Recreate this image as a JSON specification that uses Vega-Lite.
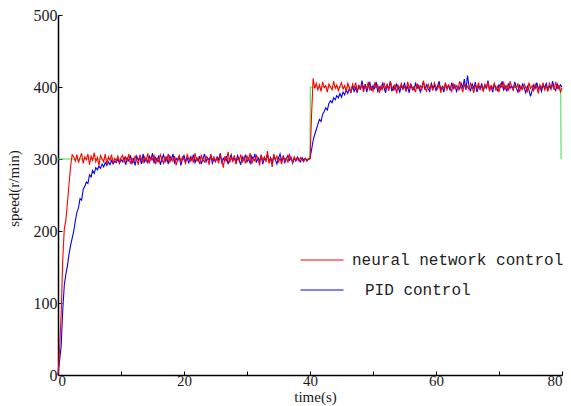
{
"$schema":"https://vega.github.io/schema/vega-lite/v6.json",
"width":504,"height":360,
"autosize":{"type":"none"},
"padding":{"left":58,"top":15,"right":9,"bottom":31},
"background":"white",
"config":{"view":{"stroke":null},
"axis":{"grid":false,"domainColor":"#000","domainWidth":1.5,"tickColor":"#000","tickSize":-4,"tickWidth":1,"labelPadding":6,"labelFont":"Liberation Serif","labelFontSize":16,"labelColor":"#1a1a1a","titleFont":"Liberation Serif","titleFontSize":15,"titleFontWeight":"normal","titleColor":"#1a1a1a"}},
"datasets":{
"ref":[{"t":0,"r":300},{"t":40,"r":300},{"t":40.05,"r":400},{"t":79.8,"r":400},{"t":79.85,"r":300}],
"sim":[
{"t":0,"n":0,"p":0},{"t":0.25,"n":35,"p":20},{"t":0.5,"n":85,"p":40},{"t":0.75,"n":160,"p":90},{"t":1,"n":203,"p":125},{"t":1.25,"n":215,"p":140},{"t":1.5,"n":240,"p":152},{"t":1.75,"n":265,"p":168},{"t":2,"n":290,"p":180},{"t":2.25,"n":306,"p":190},
{"t":2.5,"n":303,"p":200},{"t":2.75,"n":297,"p":214},{"t":3,"n":306,"p":226},{"t":3.25,"n":295,"p":232},{"t":3.5,"n":302,"p":245},{"t":3.75,"n":308,"p":243},{"t":4,"n":294,"p":258},{"t":4.25,"n":303,"p":262},{"t":4.5,"n":299,"p":268},{"t":4.75,"n":307,"p":266},
{"t":5,"n":292,"p":278},{"t":5.25,"n":304,"p":275},{"t":5.5,"n":298,"p":284},{"t":5.75,"n":309,"p":280},{"t":6,"n":296,"p":288},{"t":6.25,"n":302,"p":285},{"t":6.5,"n":291,"p":290},{"t":6.75,"n":305,"p":287},{"t":7,"n":300,"p":293},{"t":7.25,"n":296,"p":289},
{"t":7.5,"n":307,"p":295},{"t":7.75,"n":293,"p":291},{"t":8,"n":303,"p":296},{"t":8.25,"n":298,"p":292},{"t":8.5,"n":306,"p":298},{"t":8.75,"n":294,"p":293},{"t":9,"n":301,"p":297},{"t":9.25,"n":297,"p":295},{"t":9.5,"n":304,"p":300},{"t":9.75,"n":295,"p":294},
{"t":10,"n":302,"p":299},{"t":10.25,"n":305,"p":296},{"t":10.5,"n":296,"p":303},{"t":10.75,"n":303,"p":292},{"t":11,"n":298,"p":301},{"t":11.25,"n":307,"p":297},{"t":11.5,"n":293,"p":305},{"t":11.75,"n":301,"p":294},{"t":12,"n":296,"p":300},{"t":12.25,"n":304,"p":291},
{"t":12.5,"n":299,"p":304},{"t":12.75,"n":292,"p":298},{"t":13,"n":306,"p":302},{"t":13.25,"n":300,"p":293},{"t":13.5,"n":295,"p":307},{"t":13.75,"n":303,"p":296},{"t":14,"n":297,"p":301},{"t":14.25,"n":308,"p":295},{"t":14.5,"n":294,"p":304},{"t":14.75,"n":302,"p":299},
{"t":15,"n":299,"p":308},{"t":15.25,"n":305,"p":294},{"t":15.5,"n":293,"p":302},{"t":15.75,"n":301,"p":297},{"t":16,"n":296,"p":305},{"t":16.25,"n":306,"p":292},{"t":16.5,"n":300,"p":300},{"t":16.75,"n":294,"p":306},{"t":17,"n":303,"p":296},{"t":17.25,"n":298,"p":302},
{"t":17.5,"n":307,"p":293},{"t":17.75,"n":295,"p":304},{"t":18,"n":302,"p":299},{"t":18.25,"n":297,"p":307},{"t":18.5,"n":304,"p":295},{"t":18.75,"n":291,"p":301},{"t":19,"n":300,"p":297},{"t":19.25,"n":305,"p":304},{"t":19.5,"n":296,"p":291},{"t":19.75,"n":303,"p":300},
{"t":20,"n":299,"p":305},{"t":20.25,"n":294,"p":296},{"t":20.5,"n":306,"p":302},{"t":20.75,"n":300,"p":294},{"t":21,"n":297,"p":303},{"t":21.25,"n":303,"p":298},{"t":21.5,"n":295,"p":306},{"t":21.75,"n":308,"p":295},{"t":22,"n":298,"p":301},{"t":22.25,"n":302,"p":297},
{"t":22.5,"n":293,"p":304},{"t":22.75,"n":305,"p":293},{"t":23,"n":299,"p":300},{"t":23.25,"n":296,"p":307},{"t":23.5,"n":304,"p":296},{"t":23.75,"n":300,"p":302},{"t":24,"n":292,"p":298},{"t":24.25,"n":307,"p":305},{"t":24.5,"n":298,"p":294},{"t":24.75,"n":303,"p":300},
{"t":25,"n":297,"p":296},{"t":25.25,"n":301,"p":303},{"t":25.5,"n":294,"p":299},{"t":25.75,"n":306,"p":308},{"t":26,"n":299,"p":295},{"t":26.25,"n":288,"p":301},{"t":26.5,"n":304,"p":297},{"t":26.75,"n":298,"p":304},{"t":27,"n":310,"p":293},{"t":27.25,"n":295,"p":300},
{"t":27.5,"n":302,"p":306},{"t":27.75,"n":297,"p":297},{"t":28,"n":305,"p":302},{"t":28.25,"n":293,"p":295},{"t":28.5,"n":301,"p":305},{"t":28.75,"n":298,"p":299},{"t":29,"n":306,"p":292},{"t":29.25,"n":296,"p":303},{"t":29.5,"n":302,"p":298},{"t":29.75,"n":294,"p":306},
{"t":30,"n":304,"p":296},{"t":30.25,"n":299,"p":301},{"t":30.5,"n":308,"p":294},{"t":30.75,"n":293,"p":304},{"t":31,"n":301,"p":299},{"t":31.25,"n":297,"p":307},{"t":31.5,"n":305,"p":295},{"t":31.75,"n":300,"p":302},{"t":32,"n":291,"p":297},{"t":32.25,"n":306,"p":305},
{"t":32.5,"n":298,"p":293},{"t":32.75,"n":303,"p":301},{"t":33,"n":296,"p":298},{"t":33.25,"n":311,"p":306},{"t":33.5,"n":294,"p":296},{"t":33.75,"n":302,"p":302},{"t":34,"n":289,"p":294},{"t":34.25,"n":307,"p":304},{"t":34.5,"n":299,"p":299},{"t":34.75,"n":304,"p":293},
{"t":35,"n":296,"p":301},{"t":35.25,"n":301,"p":307},{"t":35.5,"n":293,"p":297},{"t":35.75,"n":305,"p":303},{"t":36,"n":298,"p":295},{"t":36.25,"n":302,"p":300},{"t":36.5,"n":295,"p":305},{"t":36.75,"n":306,"p":298},{"t":37,"n":300,"p":302},{"t":37.25,"n":296,"p":294},
{"t":37.5,"n":303,"p":301},{"t":37.75,"n":298,"p":297},{"t":38,"n":301,"p":303},{"t":38.25,"n":297,"p":299},{"t":38.5,"n":302,"p":296},{"t":38.75,"n":299,"p":302},{"t":39,"n":296,"p":298},{"t":39.25,"n":301,"p":301},{"t":39.5,"n":298,"p":297},{"t":39.75,"n":300,"p":300},
{"t":40,"n":300,"p":301},{"t":40.25,"n":362,"p":313},{"t":40.5,"n":412,"p":326},{"t":40.75,"n":398,"p":334},{"t":41,"n":405,"p":341},{"t":41.25,"n":396,"p":348},{"t":41.5,"n":403,"p":355},{"t":41.75,"n":394,"p":352},{"t":42,"n":407,"p":362},{"t":42.25,"n":399,"p":366},
{"t":42.5,"n":402,"p":371},{"t":42.75,"n":393,"p":368},{"t":43,"n":404,"p":377},{"t":43.25,"n":400,"p":381},{"t":43.5,"n":396,"p":378},{"t":43.75,"n":408,"p":385},{"t":44,"n":398,"p":382},{"t":44.25,"n":403,"p":388},{"t":44.5,"n":395,"p":385},{"t":44.75,"n":401,"p":391},
{"t":45,"n":406,"p":386},{"t":45.25,"n":397,"p":393},{"t":45.5,"n":402,"p":389},{"t":45.75,"n":394,"p":396},{"t":46,"n":405,"p":391},{"t":46.25,"n":399,"p":398},{"t":46.5,"n":392,"p":393},{"t":46.75,"n":404,"p":401},{"t":47,"n":398,"p":394},{"t":47.25,"n":406,"p":399},
{"t":47.5,"n":395,"p":392},{"t":47.75,"n":401,"p":403},{"t":48,"n":397,"p":396},{"t":48.25,"n":404,"p":409},{"t":48.5,"n":393,"p":397},{"t":48.75,"n":402,"p":404},{"t":49,"n":398,"p":393},{"t":49.25,"n":407,"p":401},{"t":49.5,"n":396,"p":406},{"t":49.75,"n":400,"p":395},
{"t":50,"n":394,"p":402},{"t":50.25,"n":405,"p":398},{"t":50.5,"n":399,"p":407},{"t":50.75,"n":403,"p":394},{"t":51,"n":392,"p":400},{"t":51.25,"n":401,"p":396},{"t":51.5,"n":397,"p":405},{"t":51.75,"n":406,"p":399},{"t":52,"n":398,"p":392},{"t":52.25,"n":403,"p":403},
{"t":52.5,"n":395,"p":397},{"t":52.75,"n":408,"p":408},{"t":53,"n":400,"p":394},{"t":53.25,"n":396,"p":401},{"t":53.5,"n":404,"p":396},{"t":53.75,"n":391,"p":404},{"t":54,"n":402,"p":399},{"t":54.25,"n":398,"p":393},{"t":54.5,"n":405,"p":402},{"t":54.75,"n":397,"p":397},
{"t":55,"n":401,"p":406},{"t":55.25,"n":394,"p":395},{"t":55.5,"n":407,"p":401},{"t":55.75,"n":399,"p":392},{"t":56,"n":403,"p":404},{"t":56.25,"n":396,"p":399},{"t":56.5,"n":400,"p":396},{"t":56.75,"n":393,"p":405},{"t":57,"n":405,"p":398},{"t":57.25,"n":398,"p":402},
{"t":57.5,"n":402,"p":393},{"t":57.75,"n":396,"p":400},{"t":58,"n":409,"p":407},{"t":58.25,"n":399,"p":396},{"t":58.5,"n":394,"p":403},{"t":58.75,"n":404,"p":398},{"t":59,"n":398,"p":394},{"t":59.25,"n":402,"p":405},{"t":59.5,"n":395,"p":399},{"t":59.75,"n":406,"p":402},
{"t":60,"n":400,"p":395},{"t":60.25,"n":397,"p":401},{"t":60.5,"n":404,"p":408},{"t":60.75,"n":392,"p":396},{"t":61,"n":401,"p":400},{"t":61.25,"n":398,"p":393},{"t":61.5,"n":406,"p":404},{"t":61.75,"n":396,"p":399},{"t":62,"n":403,"p":402},{"t":62.25,"n":399,"p":395},
{"t":62.5,"n":394,"p":406},{"t":62.75,"n":405,"p":398},{"t":63,"n":398,"p":403},{"t":63.25,"n":402,"p":394},{"t":63.5,"n":396,"p":401},{"t":63.75,"n":408,"p":397},{"t":64,"n":400,"p":405},{"t":64.25,"n":393,"p":399},{"t":64.5,"n":404,"p":411},{"t":64.75,"n":398,"p":396},
{"t":65,"n":401,"p":416},{"t":65.25,"n":396,"p":400},{"t":65.5,"n":405,"p":395},{"t":65.75,"n":399,"p":404},{"t":66,"n":392,"p":398},{"t":66.25,"n":403,"p":407},{"t":66.5,"n":398,"p":393},{"t":66.75,"n":406,"p":401},{"t":67,"n":397,"p":397},{"t":67.25,"n":401,"p":405},
{"t":67.5,"n":395,"p":394},{"t":67.75,"n":404,"p":402},{"t":68,"n":399,"p":398},{"t":68.25,"n":407,"p":409},{"t":68.5,"n":394,"p":396},{"t":68.75,"n":402,"p":401},{"t":69,"n":398,"p":393},{"t":69.25,"n":405,"p":404},{"t":69.5,"n":396,"p":399},{"t":69.75,"n":401,"p":395},
{"t":70,"n":393,"p":403},{"t":70.25,"n":404,"p":400},{"t":70.5,"n":399,"p":408},{"t":70.75,"n":406,"p":396},{"t":71,"n":397,"p":401},{"t":71.25,"n":402,"p":394},{"t":71.5,"n":395,"p":405},{"t":71.75,"n":408,"p":398},{"t":72,"n":400,"p":402},{"t":72.25,"n":396,"p":396},
{"t":72.5,"n":403,"p":407},{"t":72.75,"n":398,"p":399},{"t":73,"n":405,"p":393},{"t":73.25,"n":393,"p":402},{"t":73.5,"n":401,"p":397},{"t":73.75,"n":397,"p":404},{"t":74,"n":404,"p":399},{"t":74.25,"n":399,"p":392},{"t":74.5,"n":394,"p":401},{"t":74.75,"n":406,"p":396},
{"t":75,"n":398,"p":387},{"t":75.25,"n":402,"p":395},{"t":75.5,"n":395,"p":403},{"t":75.75,"n":404,"p":398},{"t":76,"n":399,"p":406},{"t":76.25,"n":391,"p":397},{"t":76.5,"n":403,"p":401},{"t":76.75,"n":398,"p":394},{"t":77,"n":406,"p":403},{"t":77.25,"n":396,"p":399},
{"t":77.5,"n":401,"p":405},{"t":77.75,"n":394,"p":396},{"t":78,"n":405,"p":402},{"t":78.25,"n":399,"p":397},{"t":78.5,"n":403,"p":408},{"t":78.75,"n":396,"p":399},{"t":79,"n":407,"p":395},{"t":79.25,"n":398,"p":404},{"t":79.5,"n":402,"p":398},{"t":79.75,"n":393,"p":403},
{"t":80,"n":399,"p":400}
]},
"layer":[
{"data":{"name":"ref"},"mark":{"type":"line","color":"#3ee03e","strokeWidth":1},
"encoding":{
"x":{"field":"t","type":"quantitative","title":"time(s)","scale":{"domain":[0,80],"nice":false},
"axis":{"values":[0,10,20,30,40,50,60,70,80],"labelExpr":"datum.value % 20 === 0 ? datum.label : ''","labelFontSize":15,"labelPadding":2,"titlePadding":1,"titleX":257}},
"y":{"field":"r","type":"quantitative","title":"speed(r/min)","scale":{"domain":[0,500],"nice":false},
"axis":{"values":[0,50,100,150,200,250,300,350,400,450,500],"labelExpr":"datum.value % 100 === 0 ? datum.label : ''","labelPadding":5,"titleX":-37,"titleY":173,"titleAngle":-90}}}},
{"data":{"name":"sim"},"mark":{"type":"line","strokeWidth":1.1},
"encoding":{"x":{"field":"t","type":"quantitative","title":"time(s)"},"y":{"field":"p","type":"quantitative","title":"speed(r/min)"},
"color":{"datum":"PID control","type":"nominal",
"scale":{"domain":["neural network control","PID control"],"range":["#ff0000","#0000ff"]},
"legend":{"title":null,"orient":"none","legendX":242,"legendY":223,"padding":0,"symbolType":"stroke","symbolSize":1849,"symbolStrokeWidth":1,"labelFont":"Liberation Mono","labelFontSize":16,"labelColor":"#222","labelOffset":8,"labelLimit":0,"rowPadding":-12,
"encode":{"labels":{"update":{"dx":{"signal":"datum.index === 1 ? 13 : 0"}}}}}}}},
{"data":{"name":"sim"},"mark":{"type":"line","strokeWidth":1.1},
"encoding":{"x":{"field":"t","type":"quantitative","title":"time(s)"},"y":{"field":"n","type":"quantitative","title":"speed(r/min)"},
"color":{"datum":"neural network control","type":"nominal"}}}
]
}
